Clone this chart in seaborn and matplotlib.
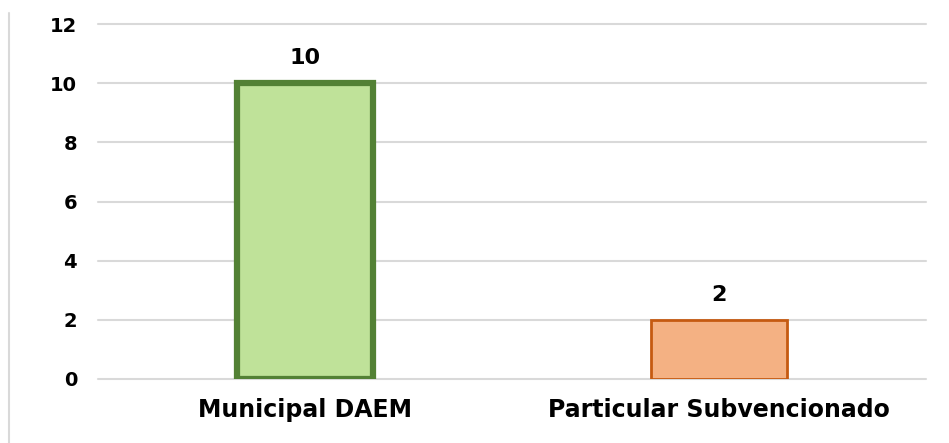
import matplotlib
matplotlib.use("Agg")
import matplotlib.pyplot as plt
from matplotlib.lines import Line2D
import pandas as pd
import seaborn as sns

# datos del gráfico
categorias = ["Municipal DAEM", "Particular Subvencionado"]
valores = [10, 2]
colores_relleno = ["#BFE299", "#F4B183"]
colores_borde = ["#538135", "#C55A11"]
grosor_borde = [4.5, 2.0]
yticks = [0, 2, 4, 6, 8, 10, 12]

sns.set_theme(style="white")
plt.rcParams["font.family"] = ["DejaVu Sans"]

df = pd.DataFrame({"cat": categorias, "val": valores})

fig = plt.figure(figsize=(9.49, 4.43), dpi=100)
ax = fig.add_axes([98 / 949, 1 - 379 / 443, (926 - 98) / 949, (379 - 24) / 443])

sns.barplot(data=df, x="cat", y="val", hue="cat", palette=colores_relleno,
            saturation=1, width=0.33, legend=False, ax=ax, zorder=3)

for p, ec, lw in zip(ax.patches, colores_borde, grosor_borde):
    p.set_edgecolor(ec)
    p.set_linewidth(lw)

for cont in ax.containers:
    ax.bar_label(cont, fmt="%d", padding=11, fontsize=16, fontweight="bold",
                 color="black")

ax.set_xlim(-0.5, 1.5)
ax.set_ylim(0, 12)
ax.set_yticks(yticks)
ax.yaxis.grid(True, color="#D9D9D9", linewidth=1.5, zorder=0)
ax.xaxis.grid(False)
for gl in ax.get_ygridlines():
    gl.set_clip_on(False)
for s in ax.spines.values():
    s.set_visible(False)

ax.set_xlabel("")
ax.set_ylabel("")
ax.tick_params(axis="y", length=0, pad=15, labelsize=14)
ax.tick_params(axis="x", length=0, pad=14, labelsize=17)
for t in ax.get_yticklabels() + ax.get_xticklabels():
    t.set_fontweight("bold")
    t.set_color("black")

# línea vertical gris a la izquierda
fig.add_artist(Line2D([9 / 949, 9 / 949], [0, 1 - 13 / 443],
                      transform=fig.transFigure, color="#D9D9D9", linewidth=1.5))

fig.savefig("out.png", dpi=100)
